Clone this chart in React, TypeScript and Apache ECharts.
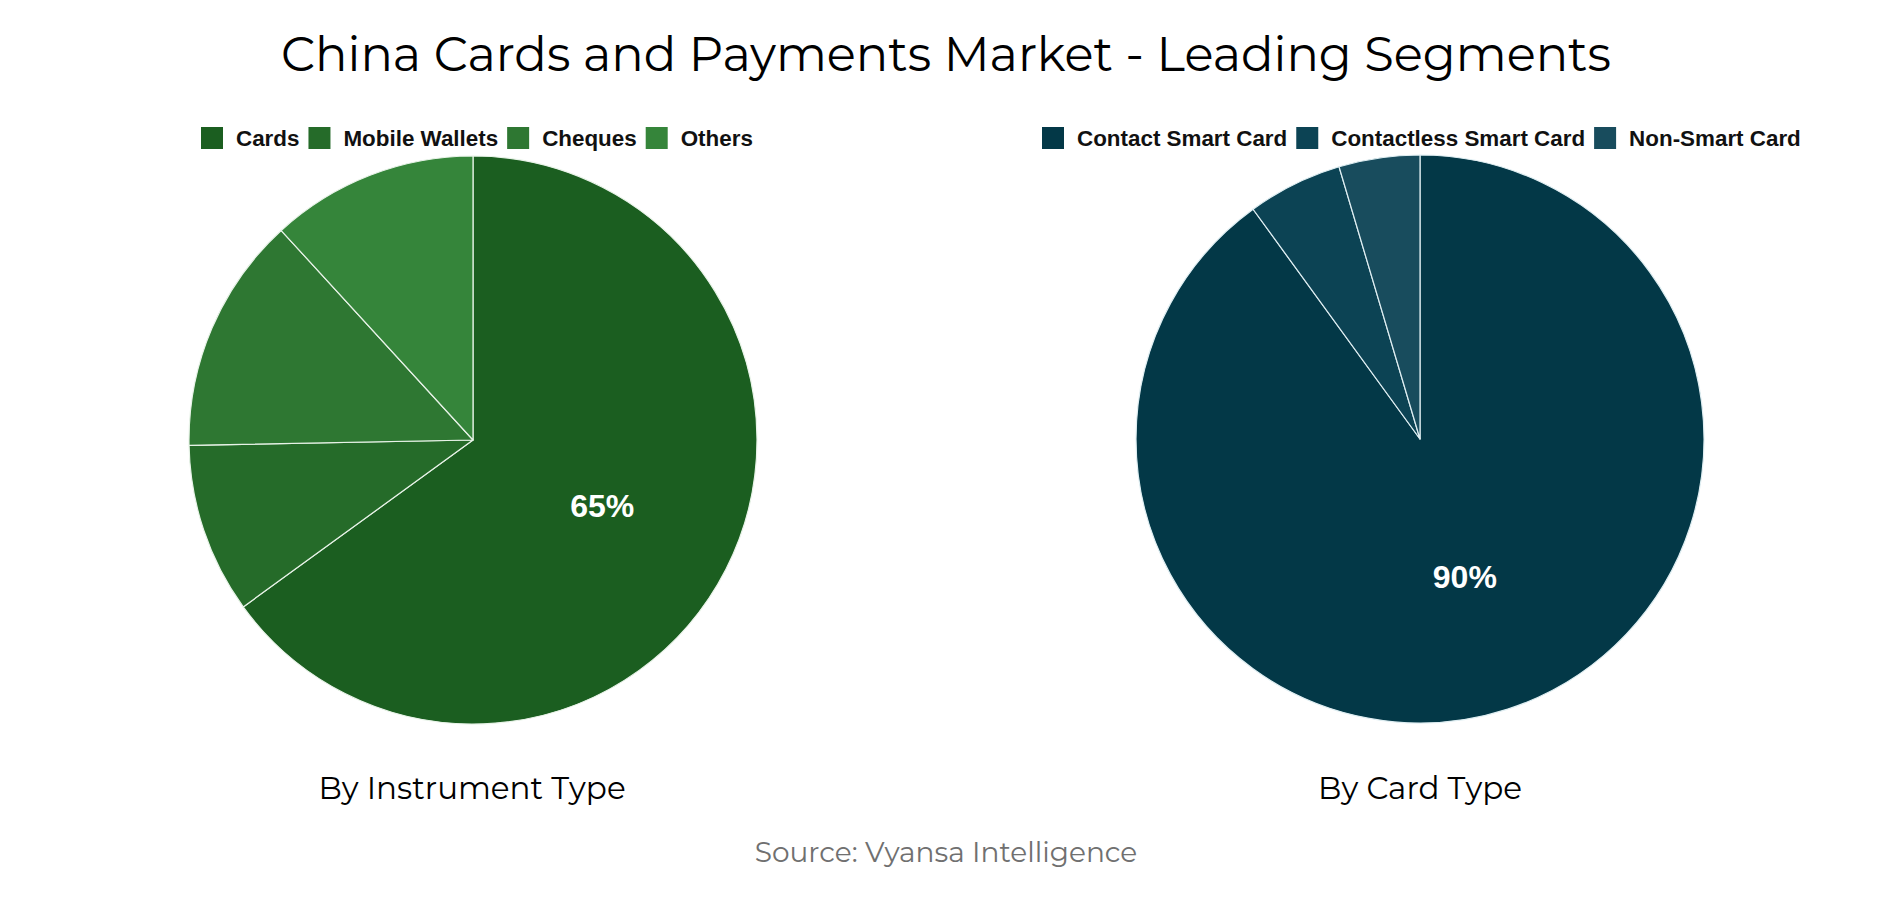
import { useEffect, useRef } from "react";
import * as echarts from "echarts";

const instrumentNames = ["Cards", "Mobile Wallets", "Cheques", "Others"];
const instrumentValues = [65, 9.7, 13.5, 11.8];
const instrumentColors = ["#1b5e20", "#256b29", "#2e7732", "#35853a"];

const cardTypeNames = ["Contact Smart Card", "Contactless Smart Card", "Non-Smart Card"];
const cardTypeValues = [90, 5.4, 4.6];
const cardTypeColors = ["#033847", "#0c4354", "#184c5d"];

const titleFont = "Montserrat, 'Open Sans', 'DejaVu Sans', sans-serif";
const legendFont = "'Liberation Sans', Arial, sans-serif";

function pieData(names: string[], values: number[], colors: string[]) {
  return names.map((name, i) => ({
    name,
    value: values[i],
    itemStyle: { color: colors[i] },
    // only the leading slice carries a label
    label: { show: i === 0 },
  }));
}

export default function App() {
  const chartRef = useRef<HTMLDivElement>(null);

  useEffect(() => {
    if (!chartRef.current) return;
    const chart = echarts.init(chartRef.current, null, { renderer: "svg" });

    const legendCommon = {
      top: 127,
      padding: 0,
      itemWidth: 22,
      itemHeight: 22,
      itemGap: 9,
      icon: "rect",
      itemStyle: { borderWidth: 0 },
      textStyle: {
        fontFamily: legendFont,
        fontSize: 22.4,
        fontWeight: "bold" as const,
        color: "#111",
        padding: [0, 0, 0, 8],
      },
    };

    const seriesCommon = {
      type: "pie" as const,
      radius: 284,
      startAngle: 90,
      clockwise: true,
      avoidLabelOverlap: false,
      label: {
        position: "inside" as const,
        formatter: "{c}%",
        color: "#fff",
        fontFamily: legendFont,
        fontSize: 32,
        fontWeight: "bold" as const,
      },
      labelLine: { show: false },
      emphasis: { disabled: true },
    };

    chart.setOption({
      animation: false,
      backgroundColor: "#fff",
      legend: [
        { ...legendCommon, left: 201, data: instrumentNames },
        { ...legendCommon, left: 1042, data: cardTypeNames },
      ],
      graphic: [
        {
          type: "text",
          x: 946,
          y: 54,
          style: {
            text: "China Cards and Payments Market - Leading Segments",
            fontFamily: titleFont,
            fontSize: 48,
            fill: "#000",
            textAlign: "center",
            textVerticalAlign: "middle",
          },
        },
        {
          type: "text",
          x: 472,
          y: 788,
          style: {
            text: "By Instrument Type",
            fontFamily: titleFont,
            fontSize: 31,
            fill: "#000",
            textAlign: "center",
            textVerticalAlign: "middle",
          },
        },
        {
          type: "text",
          x: 1420,
          y: 788,
          style: {
            text: "By Card Type",
            fontFamily: titleFont,
            fontSize: 31,
            fill: "#000",
            textAlign: "center",
            textVerticalAlign: "middle",
          },
        },
        {
          type: "text",
          x: 946,
          y: 852,
          style: {
            text: "Source: Vyansa Intelligence",
            fontFamily: titleFont,
            fontSize: 28,
            fill: "#707070",
            textAlign: "center",
            textVerticalAlign: "middle",
          },
        },
      ],
      series: [
        {
          ...seriesCommon,
          name: "By Instrument Type",
          center: [473, 440],
          itemStyle: { borderColor: "#e8f3e8", borderWidth: 1.2 },
          data: pieData(instrumentNames, instrumentValues, instrumentColors),
        },
        {
          ...seriesCommon,
          name: "By Card Type",
          center: [1420, 439],
          itemStyle: { borderColor: "#dfeef2", borderWidth: 1.2 },
          data: pieData(cardTypeNames, cardTypeValues, cardTypeColors),
        },
      ],
    });

    return () => {
      chart.dispose();
    };
  }, []);

  return (
    <div
      ref={chartRef}
      style={{ position: "fixed", left: 0, top: 0, width: 1894, height: 900 }}
    />
  );
}
